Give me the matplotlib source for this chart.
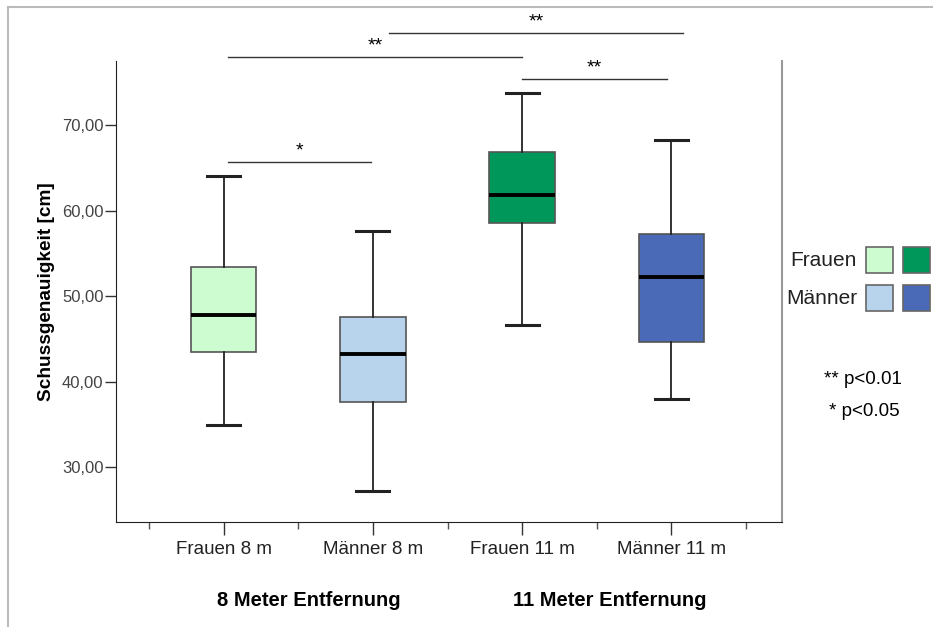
import matplotlib.pyplot as plt
from matplotlib.patches import Rectangle
from matplotlib.lines import Line2D

plt.rcParams['font.family'] = ['Liberation Sans', 'DejaVu Sans']

# values
groups = ['Frauen 8 m', 'Männer 8 m', 'Frauen 11 m', 'Männer 11 m']
whis_lo = [34.9, 27.2, 46.6, 38.0]
q1 = [43.5, 37.6, 58.6, 44.7]
median = [47.8, 43.3, 61.8, 52.3]
q3 = [53.4, 47.6, 66.9, 57.3]
whis_hi = [64.1, 57.6, 73.8, 68.3]
colors = ['#ccfccf', '#b8d4ec', '#00975a', '#4a6ab8']

# significance brackets: start, end (category positions), height, label
sig_x0 = [1.03, 1.03, 3.0, 2.11]
sig_x1 = [1.99, 3.0, 3.97, 4.08]
sig_y = [65.7, 77.95, 75.4, 80.75]
sig_lab = ['*', '**', '**', '**']

fig = plt.figure(figsize=(9.33, 6.27), dpi=100)
ax = fig.add_axes([116/933, 1-522/627, (782-116)/933, (522-61)/627])

stats = []
for i, g in enumerate(groups):
    stats.append(dict(label=g, whislo=whis_lo[i], q1=q1[i], med=median[i],
                      q3=q3[i], whishi=whis_hi[i], fliers=[]))

bp = ax.bxp(stats, positions=[1, 2, 3, 4], widths=0.44, patch_artist=True,
            showfliers=False,
            boxprops=dict(edgecolor='#555555', linewidth=1.2),
            whiskerprops=dict(color='#222222', linewidth=1.3),
            capprops=dict(color='#222222', linewidth=2.2),
            medianprops=dict(color='black', linewidth=2.8),
            capwidths=0.22)
for patch, c in zip(bp['boxes'], colors):
    patch.set_facecolor(c)

ax.set_xlim(0.28, 4.74)
ax.set_ylim(23.6, 77.5)
ax.set_yticks([30, 40, 50, 60, 70])
ax.set_yticklabels(['30,00', '40,00', '50,00', '60,00', '70,00'])
ax.set_xticks([1, 2, 3, 4])
ax.set_xticklabels(groups)
ax.set_xticks([0.5, 1.5, 2.5, 3.5, 4.5], minor=True)
ax.tick_params(axis='y', length=8, width=1, color='#333333', labelsize=12,
               labelcolor='#444444', pad=1)
ax.tick_params(axis='x', which='major', length=9, width=1, color='#333333',
               labelsize=13.5, labelcolor='#222222', pad=5)
ax.tick_params(axis='x', which='minor', length=5, width=1, color='#555555')

ax.spines['top'].set_visible(False)
ax.spines['left'].set_color('#222222')
ax.spines['bottom'].set_color('#222222')
ax.spines['right'].set_color('#999999')
ax.spines['right'].set_linewidth(1.5)

ax.set_ylabel('Schussgenauigkeit [cm]', fontsize=13.7, fontweight='bold',
              labelpad=5)

for x0, x1, y, lab in zip(sig_x0, sig_x1, sig_y, sig_lab):
    ax.plot([x0, x1], [y, y], color='#333333', linewidth=1, clip_on=False)
    ax.annotate(lab, ((x0 + x1) / 2, y), xytext=(0, 2),
                textcoords='offset points', ha='center', va='bottom',
                fontsize=14, annotation_clip=False)

fig.text(309/933, 1-601/627, '8 Meter Entfernung', ha='center', va='center',
         fontsize=14.5, fontweight='bold')
fig.text(610/933, 1-601/627, '11 Meter Entfernung', ha='center', va='center',
         fontsize=14.5, fontweight='bold')

# legend drawn by hand
fig.text(857/933, 1-260/627, 'Frauen', ha='right', va='center', fontsize=15,
         color='#222222')
fig.text(857/933, 1-298/627, 'Männer', ha='right', va='center', fontsize=15,
         color='#222222')
for (px, py), c in zip([(866, 273), (866, 311), (903, 273), (903, 311)],
                       [colors[0], colors[1], colors[2], colors[3]]):
    fig.add_artist(Rectangle((px/933, 1-py/627), 27/933, 26/627,
                             facecolor=c, edgecolor='#666666', linewidth=1.2,
                             transform=fig.transFigure))
fig.text(863/933, 1-380/627, '** p<0.01', ha='center', va='center', fontsize=13.5)
fig.text(864/933, 1-411/627, '* p<0.05', ha='center', va='center', fontsize=13.5)

# outer frame
fig.add_artist(Line2D([8/933, 8/933], [0, 1-7/627], color='#bbbbbb', linewidth=1.5))
fig.add_artist(Line2D([8/933, 1], [1-7/627, 1-7/627], color='#bbbbbb', linewidth=1.5))

fig.savefig('out.png', dpi=100)
